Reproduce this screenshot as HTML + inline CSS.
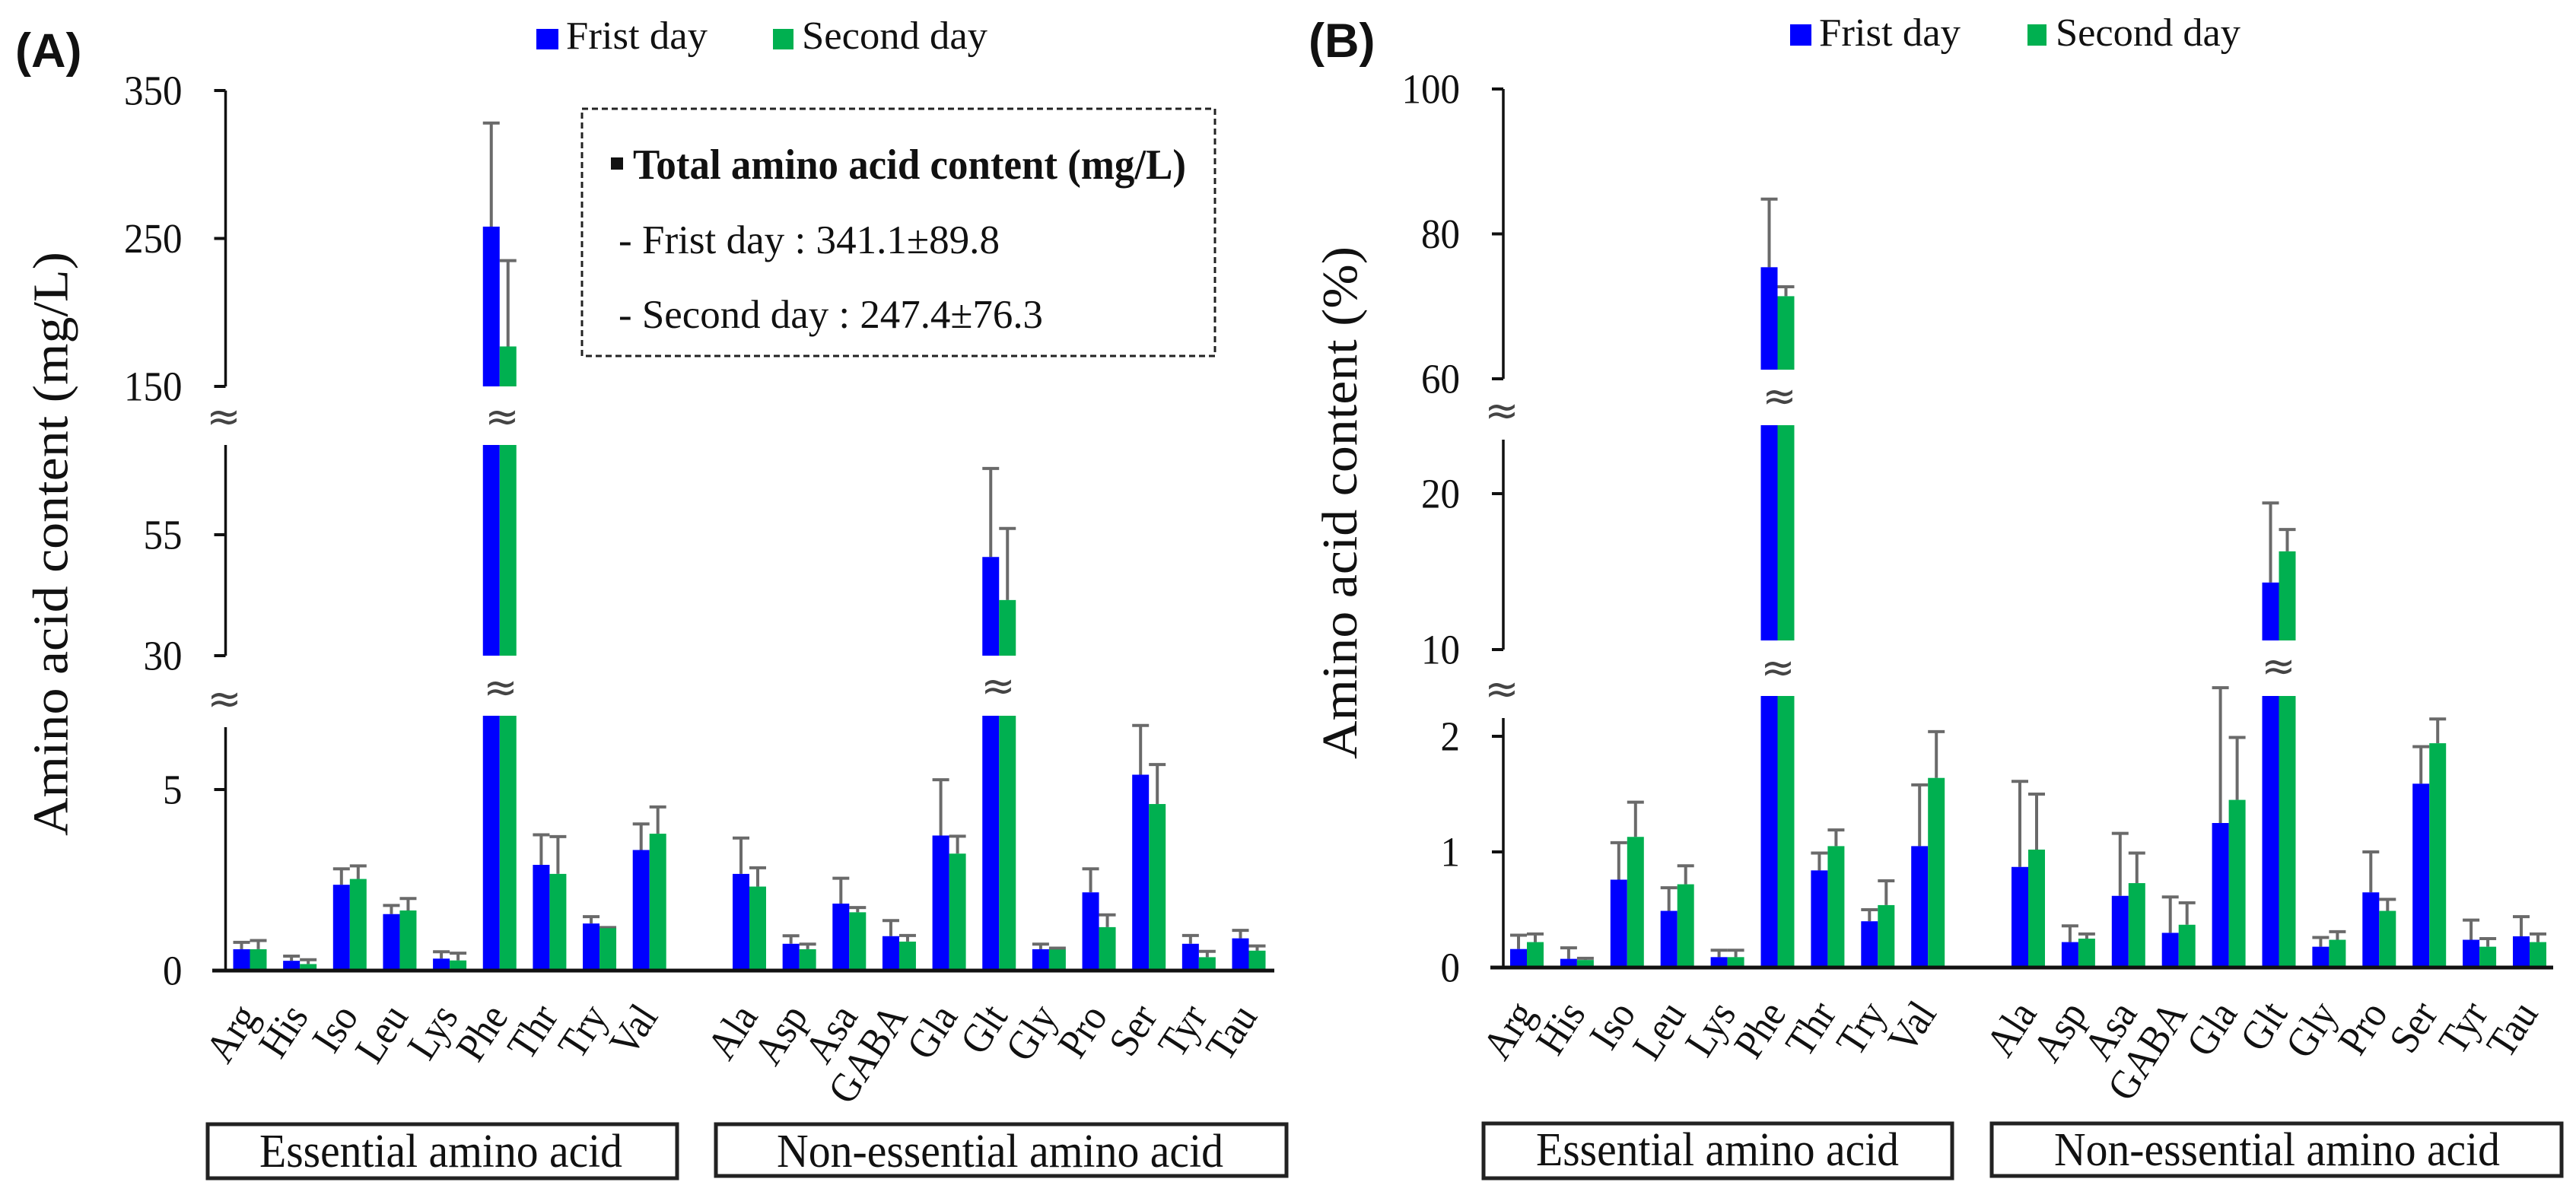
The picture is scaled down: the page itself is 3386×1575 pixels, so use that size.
<!DOCTYPE html>
<html lang="en">
<head>
<meta charset="utf-8">
<title>Amino acid content</title>
<style>
html,body{margin:0;padding:0;background:#fff;}
svg{display:block;}
text{font-family:"Liberation Serif",serif;fill:#111;}
</style>
</head>
<body>
<svg id="chart" xmlns="http://www.w3.org/2000/svg" width="3386" height="1575" viewBox="0 0 3386 1575">
  <rect x="0" y="0" width="3386" height="1575" fill="#fff"/>

  <text x="20" y="88" style="font-family:'Liberation Sans',sans-serif;font-weight:bold;font-size:63px">(A)</text>
  <text x="1720" y="75" style="font-family:'Liberation Sans',sans-serif;font-weight:bold;font-size:63px">(B)</text>

  <g>
    <rect x="705" y="38" width="29" height="27" fill="#0000ff"/>
    <text x="744" y="64" font-size="52" textLength="186" lengthAdjust="spacingAndGlyphs">Frist day</text>
    <rect x="1016" y="38" width="27" height="27" fill="#00b050"/>
    <text x="1054" y="64" font-size="52" textLength="244" lengthAdjust="spacingAndGlyphs">Second day</text>
  </g>
  <g>
    <rect x="2353" y="32" width="28" height="28" fill="#0000ff"/>
    <text x="2391" y="60" font-size="52" textLength="186" lengthAdjust="spacingAndGlyphs">Frist day</text>
    <rect x="2665" y="32" width="25" height="28" fill="#00b050"/>
    <text x="2702" y="60" font-size="52" textLength="243" lengthAdjust="spacingAndGlyphs">Second day</text>
  </g>

  <text transform="translate(88.5,715) rotate(-90)" text-anchor="middle" font-size="66" textLength="768" lengthAdjust="spacingAndGlyphs">Amino acid content (mg/L)</text>
  <text transform="translate(1783,661) rotate(-90)" text-anchor="middle" font-size="66" textLength="674" lengthAdjust="spacingAndGlyphs">Amino acid content (%)</text>

  <g>
    <rect x="765" y="143" width="832" height="325" fill="none" stroke="#222" stroke-width="3" stroke-dasharray="8 5"/>
    <rect x="803" y="207" width="16" height="16" fill="#111"/>
    <text x="832" y="235" font-size="56" font-weight="bold" textLength="727" lengthAdjust="spacingAndGlyphs">Total amino acid content (mg/L)</text>
    <text x="813" y="333" font-size="53" textLength="501" lengthAdjust="spacingAndGlyphs">- Frist day : 341.1±89.8</text>
    <text x="813" y="431" font-size="53" textLength="558" lengthAdjust="spacingAndGlyphs">- Second day : 247.4±76.3</text>
  </g>

  <g fill="none" stroke="#222" stroke-width="5">
    <rect x="273" y="1478" width="617" height="71"/>
    <rect x="941" y="1478" width="750" height="68"/>
    <rect x="1950" y="1477" width="616" height="72"/>
    <rect x="2618" y="1477" width="749" height="69"/>
  </g>
  <text x="341" y="1534" font-size="62" textLength="477" lengthAdjust="spacingAndGlyphs">Essential amino acid</text>
  <text x="1021" y="1534" font-size="62" textLength="587" lengthAdjust="spacingAndGlyphs">Non-essential amino acid</text>
  <text x="2019" y="1532" font-size="62" textLength="477" lengthAdjust="spacingAndGlyphs">Essential amino acid</text>
  <text x="2700" y="1532" font-size="62" textLength="586" lengthAdjust="spacingAndGlyphs">Non-essential amino acid</text>
</svg>

<script>
// Categories (null = blank slot between the two amino acid groups)
const categories = ["Arg","His","Iso","Leu","Lys","Phe","Thr","Try","Val",null,"Ala","Asp","Asa","GABA","Gla","Glt","Gly","Pro","Ser","Tyr","Tau"];

// Panel A: mg/L
const aTicks = [0,5,30,55,150,250,350];
const aFirst = [0.59,0.27,2.37,1.56,0.33,258,2.92,1.30,3.33,null,2.67,0.74,1.85,0.95,3.73,50.4,0.59,2.16,5.41,0.74,0.89];
const aFirstErr = [0.78,0.40,2.81,1.80,0.52,328,3.75,1.49,4.05,null,3.66,0.96,2.55,1.38,5.27,68.7,0.73,2.81,6.77,0.97,1.11];
const aSecond = [0.59,0.18,2.53,1.66,0.28,177,2.67,1.17,3.78,null,2.32,0.59,1.61,0.80,3.23,41.5,0.58,1.20,4.60,0.37,0.55];
const aSecondErr = [0.83,0.30,2.89,1.99,0.48,235,3.70,1.19,4.52,null,2.84,0.73,1.74,0.97,3.71,56.3,0.62,1.54,5.69,0.53,0.68];

// Panel B: percent
const bTicks = [0,1,2,10,20,60,80,100];
const bFirst = [0.16,0.075,0.76,0.49,0.09,75.4,0.84,0.40,1.05,null,0.87,0.22,0.62,0.30,1.25,14.3,0.18,0.65,1.59,0.24,0.27];
const bFirstErr = [0.28,0.17,1.08,0.69,0.15,84.8,0.99,0.50,1.58,null,1.61,0.36,1.16,0.61,2.42,19.4,0.26,1.00,1.91,0.41,0.44];
const bSecond = [0.22,0.065,1.13,0.72,0.09,71.4,1.05,0.54,1.64,null,1.02,0.25,0.73,0.37,1.45,16.3,0.24,0.49,1.94,0.18,0.22];
const bSecondErr = [0.29,0.08,1.43,0.88,0.15,72.7,1.19,0.75,2.04,null,1.50,0.29,0.99,0.56,1.99,17.7,0.31,0.59,2.15,0.25,0.29];

const NS = "http://www.w3.org/2000/svg";
const svg = document.getElementById("chart");

function make(parent, tag, attrs, txt) {
  const el = document.createElementNS(NS, tag);
  for (const k in attrs) el.setAttribute(k, attrs[k]);
  if (txt !== undefined) el.textContent = txt;
  parent.appendChild(el);
  return el;
}

function drawPanel(cfg) {
  const segs = cfg.segs;
  function segIndex(v) { return v < segs[1].v0 ? 0 : (v < segs[2].v0 ? 1 : 2); }
  function y(v) {
    const s = segs[segIndex(v)];
    return s.y0 + (v - s.v0) * (s.y1 - s.y0) / (s.v1 - s.v0);
  }
  function x(i) { return cfg.x0 + i * cfg.step; }

  const g = make(svg, "g", {});
  
  

  // Error bars (behind the bars)
  cfg.series.forEach(function (ser) {
    categories.forEach(function (cat, i) {
      if (cat === null) return;
      const cx = x(i) + ser.off;
      const top = y(ser.errs[i]);
      const e = make(g, "path", { d: "M" + cx + " " + y(ser.values[i]) + "V" + top + "M" + (cx - 11) + " " + top + "H" + (cx + 11), fill: "none", stroke: "#6a6a6a", "stroke-width": 4 });
      
      
    });
  });

  // Bars
  cfg.series.forEach(function (ser) {
    categories.forEach(function (cat, i) {
      if (cat === null) return;
      const v = ser.values[i];
      const k = segIndex(v);
      const pieces = [];
      if (k === 0) pieces.push([y(0), y(v)]);
      if (k >= 1) pieces.push([y(0), cfg.lowCut]);
      if (k === 1) pieces.push([cfg.midBottom, y(v)]);
      if (k === 2) { pieces.push([cfg.midBottom, cfg.midTop]); pieces.push([cfg.topBottom, y(v)]); }
      pieces.forEach(function (p) {
        const r = make(g, "rect", { x: x(i) + ser.off - cfg.barW / 2, y: p[1], width: cfg.barW, height: p[0] - p[1], fill: ser.color });
        
        
      });
    });
  });

  // Y axis pieces
  const ax = make(g, "path", {
    d: "M" + cfg.axisX + " " + y(cfg.ticks[cfg.ticks.length - 1]) + "V" + cfg.topBreak +
       "M" + cfg.axisX + " " + cfg.axisMidTop + "V" + cfg.midBreak +
       "M" + cfg.axisX + " " + cfg.axisLowTop + "V" + y(0),
    fill: "none", stroke: "#111", "stroke-width": 3.5 });
  
  

  // Ticks and labels
  cfg.ticks.forEach(function (t) {
    const ty = y(t);
    const tk = make(g, "line", { x1: cfg.axisX - 15, x2: cfg.axisX, y1: ty, y2: ty, stroke: "#111", "stroke-width": 4 });
    
    
    const s = String(t);
    const lb = make(g, "text", { x: cfg.axisX - 57, y: ty + 18.5, "text-anchor": "end", "font-size": 55, textLength: s.length * 25.5, lengthAdjust: "spacingAndGlyphs" }, s);
    
    
  });

  // X axis
  const xa = make(g, "line", { x1: cfg.xAxis[0], x2: cfg.xAxis[1], y1: y(0), y2: y(0), stroke: "#111", "stroke-width": 5 });
  
  

  // Category labels
  categories.forEach(function (cat, i) {
    if (cat === null) return;
    const lb = make(g, "text", { transform: "translate(" + (x(i) + 12.5) + "," + (y(0) + 60) + ") rotate(-57) scale(1,1.1)", "text-anchor": "end", "font-size": 50 }, cat);
    
    
  });

  // Break marks
  cfg.breaks.forEach(function (b) {
    const m = make(g, "text", { x: b[0], y: b[1] + 17, "text-anchor": "middle", "font-size": 54, style: "fill:#444;font-family:'DejaVu Sans',sans-serif" }, "≈");
    
    
  });
}

drawPanel({
  name: "panel-a-plot",
  x0: 328.5, step: 65.65, barW: 22, axisX: 296.5, xAxis: [279, 1675],
  segs: [{ v0: 0, y0: 1276, v1: 5, y1: 1038 }, { v0: 30, y0: 862, v1: 55, y1: 703 }, { v0: 150, y0: 508, v1: 350, y1: 119 }],
  lowCut: 941, midBottom: 862, midTop: 585, topBottom: 508,
  topBreak: 508, axisMidTop: 585, midBreak: 862, axisLowTop: 956,
  ticks: aTicks,
  breaks: [[294, 549], [295, 920], [660, 549], [658, 905], [1312, 903]],
  series: [
    { key: "first-day", off: -11, color: "#0000ff", values: aFirst, errs: aFirstErr },
    { key: "second-day", off: 11, color: "#00b050", values: aSecond, errs: aSecondErr }
  ]
});

drawPanel({
  name: "panel-b-plot",
  x0: 2007, step: 65.9, barW: 22, axisX: 1976, xAxis: [1959, 3356],
  segs: [{ v0: 0, y0: 1272, v1: 2, y1: 968 }, { v0: 10, y0: 854, v1: 20, y1: 649 }, { v0: 60, y0: 498, v1: 100, y1: 117 }],
  lowCut: 915, midBottom: 842, midTop: 559, topBottom: 486,
  topBreak: 498, axisMidTop: 578, midBreak: 854, axisLowTop: 944,
  ticks: bTicks,
  breaks: [[1974, 541], [1974, 907], [2339, 522], [2337, 879], [2995, 877]],
  series: [
    { key: "first-day", off: -11, color: "#0000ff", values: bFirst, errs: bFirstErr },
    { key: "second-day", off: 11, color: "#00b050", values: bSecond, errs: bSecondErr }
  ]
});
</script>
</body>
</html>
